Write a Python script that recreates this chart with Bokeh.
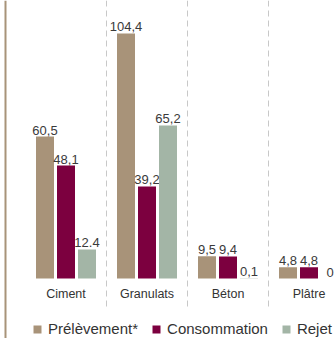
from bokeh.plotting import figure
from bokeh.models import Span, Legend, LegendItem, ColumnDataSource, Range1d
from bokeh.core.properties import value
from bokeh.embed import file_html
from bokeh.resources import INLINE

categories = ["Ciment", "Granulats", "Béton", "Plâtre"]
series = ["Prélèvement*", "Consommation", "Rejet"]
prelevement = [60.5, 104.4, 9.5, 4.8]
consommation = [48.1, 39.2, 9.4, 4.8]
rejet = [12.4, 65.2, 0.1, 0.0]
prelevement_labels = ["60,5", "104,4", "9,5", "4,8"]
consommation_labels = ["48,1", "39,2", "9,4", "4,8"]
rejet_labels = ["12.4", "65,2", "0,1", "0"]

colors = ["#a89379", "#7c003f", "#a3b5a6"]
FONT = "Liberation Sans"
UNIT = 81.0          # px per category
PX_PER_VAL = 2.347   # px per unit of value

W, H = 336, 338
x0 = -25 / UNIT
x1 = x0 + W / UNIT
y1 = 278 / PX_PER_VAL
y0 = y1 - H / PX_PER_VAL

p = figure(width=W, height=H, output_backend="svg", toolbar_location=None,
           x_range=Range1d(x0, x1), y_range=Range1d(y0, y1),
           min_border=0, outline_line_color=None)
p.axis.visible = False
p.grid.visible = False
p.background_fill_color = "white"

centers = [i + 0.5 for i in range(len(categories))]
bar_w = 18 / UNIT
off = 21 / UNIT

# dashed separators between categories
sep_x = [i + 1.0 for i in range(len(categories) - 1)]
sep_src = ColumnDataSource(dict(x=sep_x, top=[y1] * len(sep_x), bot=[-32 / PX_PER_VAL] * len(sep_x)))
p.segment(x0="x", y0="top", x1="x", y1="bot", source=sep_src,
          line_color="#c8c8c8", line_width=1, line_dash="6 4")

# left border line
p.add_layout(Span(location=x0 + 5 / UNIT, dimension="height", line_color="#a89379", line_width=2))

items = []
for k, (vals, labs) in enumerate([(prelevement, prelevement_labels),
                                  (consommation, consommation_labels),
                                  (rejet, rejet_labels)]):
    xs = [c + (k - 1) * off for c in centers]
    src = ColumnDataSource(dict(x=xs, top=vals, lab=labs))
    r = p.vbar(x="x", top="top", bottom=0, width=bar_w, source=src,
               fill_color=colors[k], line_color=None)
    p.text(x="x", y="top", text="lab", source=src, text_align="center",
           text_baseline="bottom", y_offset=-2, text_font=value(FONT),
           text_font_size="13px", text_color="#3a3a3a")
    items.append(LegendItem(label=series[k], renderers=[r]))

# category labels
cat_src = ColumnDataSource(dict(x=centers, y=[0] * len(centers), t=categories))
p.text(x="x", y="y", text="t", source=cat_src, text_align="center",
       text_baseline="top", y_offset=8, text_font=value(FONT),
       text_font_size="12.5px", text_color="#333333")

legend = Legend(items=items, orientation="horizontal", location=(32, 1),
                glyph_width=10, glyph_height=10, label_standoff=6, spacing=13,
                padding=0, margin=0, border_line_alpha=0, background_fill_alpha=0,
                label_text_font=FONT, label_text_font_size="15px",
                label_text_color="#333333", label_height=16)
p.add_layout(legend, "center")

open("out.html", "w").write(file_html(p, INLINE))
